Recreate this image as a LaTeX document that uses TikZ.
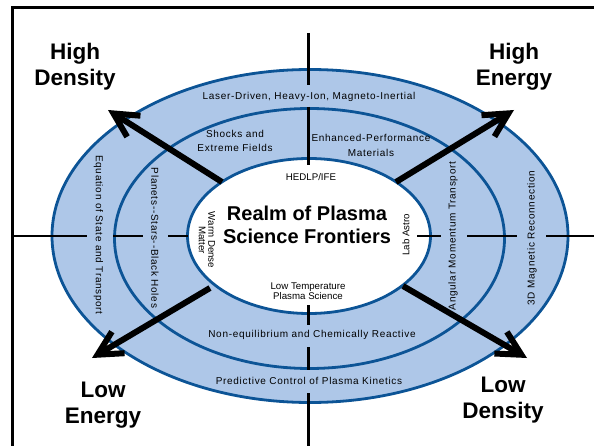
\documentclass[tikz,border=0pt]{standalone}
\usepackage{fontspec}
\setmainfont{Liberation Sans}
\newfontfamily\spacedfont[LetterSpace=7]{Liberation Sans}
\usetikzlibrary{arrows.meta,shapes.geometric}
\definecolor{ringline}{RGB}{12,84,150}
\definecolor{ringfill}{RGB}{174,199,232}
\tikzset{
  ringedge/.style={draw=ringline, line width=2.8pt},
  axisline/.style={draw=black, line width=2.6pt},
  framestyle/.style={draw=black, line width=2.4pt},
  bigarrow/.style={draw=black, line width=6pt,
    -{Straight Barb[length=24pt, width=25pt, sharp]}},
  biglabel/.style={font=\fontsize{22.5}{26}\selectfont\bfseries, align=center, inner sep=0pt},
  titlelabel/.style={font=\fontsize{20}{23}\selectfont\bfseries, align=center, inner sep=0pt},
  ringlabel/.style={font=\spacedfont\fontsize{10}{14.2}\selectfont, align=center, inner sep=0pt},
  corelabel/.style={font=\fontsize{9.7}{10}\selectfont, align=center, inner sep=0pt},
}
\begin{document}
\begin{tikzpicture}[x=1pt, y=-1pt]
\useasboundingbox (0,0) rectangle (594,446);
\fill[white] (0,0) rectangle (594,446);
% frame
\draw[framestyle] (12.5,446) -- (12.5,7.5) -- (594,7.5);
% rings
\fill[ringfill] (310,236) ellipse [x radius=258pt, y radius=166.5pt];
\draw[ringedge] (310,236) ellipse [x radius=258pt, y radius=166.5pt];
\draw[ringedge] (309.5,238.5) ellipse [x radius=195pt, y radius=130pt];
\node[ellipse, fill=white, ringedge, minimum width=243pt, minimum height=155pt, inner sep=0pt] (core) at (309,236) {};
% axis lines
\draw[axisline] (308.5,33) -- (308.5,85);
\draw[axisline] (308.5,107) -- (308.5,165);
\draw[axisline] (308.5,305) -- (308.5,325);
\draw[axisline] (308.5,347) -- (308.5,370);
\draw[axisline] (308.5,393) -- (308.5,446);
\draw[axisline] (13,236) -- (87,236);
\draw[axisline] (113,236) -- (143,236);
\draw[axisline] (168,236) -- (188,236);
\draw[axisline] (417,236) -- (441,236);
\draw[axisline] (467,236) -- (517,236);
\draw[axisline] (546,236) -- (594,236);
% ring labels
\node[ringlabel] (laser) at (309,97) {Laser-Driven, Heavy-Ion, Magneto-Inertial};
\node[ringlabel] (shocks) at (235,141) {Shocks and\\Extreme Fields};
\node[ringlabel] (enhanced) at (371,145.5) {Enhanced-Performance\\Materials};
\node[ringlabel] (noneq) at (312,335) {Non-equilibrium and Chemically Reactive};
\node[ringlabel] (predictive) at (309,381) {Predictive Control of Plasma Kinetics};
\node[ringlabel, rotate=-90] (eos) at (98.5,235) {Equation of State and Transport};
\node[ringlabel, rotate=-90] (planets) at (155,238) {Planets-{}-Stars-{}-Black Holes};
\node[ringlabel, rotate=90] (angular) at (453,236) {Angular Momentum Transport};
\node[ringlabel, rotate=90] (recon) at (532,238) {3D Magnetic Reconnection};
% core labels
\node[corelabel] (hedlp) at (311,177) {HEDLP/IFE};
\node[corelabel] (lowtemp) at (308,291) {Low Temperature\\Plasma Science};
\node[corelabel, rotate=-90, font=\fontsize{9.7}{9.5}\selectfont] (wdm) at (207,240) {Warm Dense\\Matter};
\node[corelabel, rotate=90] (labastro) at (406,235) {Lab Astro};
\node[titlelabel] (realm) at (307,225) {Realm of Plasma\\Science Frontiers};
% corner labels
\node[biglabel] (hd) at (75,67) {High\\Density};
\node[biglabel] (he) at (514,67) {High\\Energy};
\node[biglabel] (le) at (103,405) {Low\\Energy};
\node[biglabel] (ld) at (503,400) {Low\\Density};
% arrows
\coordinate (ulS) at (222,182); \coordinate (ulT) at (108,110);
\coordinate (urS) at (396,182); \coordinate (urT) at (514,110);
\coordinate (llS) at (210,288); \coordinate (llT) at (92,358);
\coordinate (lrS) at (403,286); \coordinate (lrT) at (527,358);
\draw[bigarrow] (ulS) -- (ulT);
\draw[bigarrow] (urS) -- (urT);
\draw[bigarrow] (llS) -- (llT);
\draw[bigarrow] (lrS) -- (lrT);
\end{tikzpicture}
\end{document}
